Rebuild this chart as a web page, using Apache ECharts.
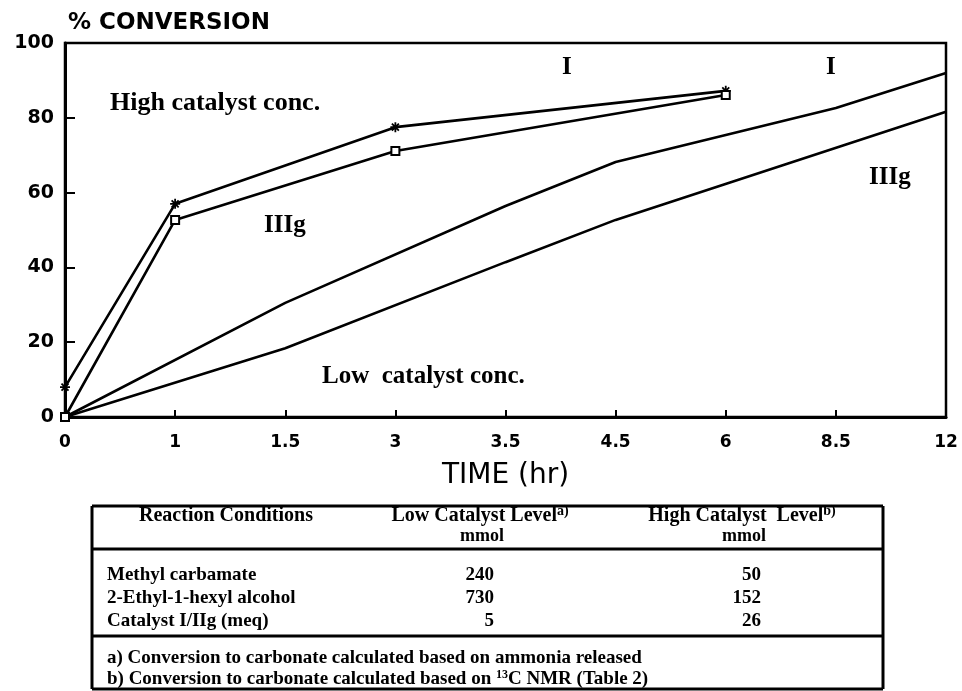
<!DOCTYPE html>
<html>
<head>
<meta charset="utf-8">
<script src="https://cdn.jsdelivr.net/npm/echarts@6/dist/echarts.min.js"></script>
<style>
html,body{margin:0;padding:0;background:#fff;}
#chart{width:962px;height:691px;}
</style>
</head>
<body>
<div id="chart"></div>
<script>
// ---- data ----
const categories = ['0', '1', '1.5', '3', '3.5', '4.5', '6', '8.5', '12'];
const highI     = [8, 57, null, 77.5, null, null, 87.2, null, null];
const highIIIg  = [0, 52.7, null, 71.1, null, null, 86.1, null, null];
const lowI      = [0, null, 30.5, null, 56.4, 68.2, null, 82.6, 92];
const lowIIIg   = [0, null, 18.4, null, 41.4, 52.7, null, null, 81.6];
const yTicks    = [0, 20, 40, 60, 80, 100];

const tableHeader = ['Reaction Conditions', 'Low Catalyst Level', 'High Catalyst  Level'];
const tableNoteMarks = ['', 'a)', 'b)'];
const tableUnits  = ['', 'mmol', 'mmol'];
const rowLabels   = ['Methyl carbamate', '2-Ethyl-1-hexyl alcohol', 'Catalyst I/IIg (meq)'];
const lowLevel    = [240, 730, 5];
const highLevel   = [50, 152, 26];
const footnotes   = ['a) Conversion to carbonate calculated based on ammonia released',
                     'b) Conversion to carbonate calculated based on {s|13}C NMR (Table 2)'];

// ---- styles ----
const SERIF = '"Liberation Serif", "DejaVu Serif", serif';
const SANS = '"DejaVu Sans", "Liberation Sans", sans-serif';
const asterisk = 'path://M5,0 L5,10 M0,5 L10,5 M1.5,1.5 L8.5,8.5 M8.5,1.5 L1.5,8.5';
const vtick = 'path://M1,0 L1,10';

const chart = echarts.init(document.getElementById('chart'), null, {renderer: 'canvas'});

function lineSeries(name, data, symbol, size, itemStyle) {
  return {
    name, type: 'line', data, connectNulls: true,
    symbol, symbolSize: size, showSymbol: symbol !== 'none',
    lineStyle: {color: '#000', width: 2.6},
    itemStyle: itemStyle || {color: 'rgba(0,0,0,0)', borderColor: '#000', borderWidth: 1.8},
    emphasis: {disabled: true}, animation: false, z: 3
  };
}

// table graphics
const T = {left: 92, right: 883, top: 506, headBottom: 549, bodyBottom: 636, bottom: 689};
const g = [];
function hline(y, x1, x2, w) { g.push({type: 'line', shape: {x1, y1: y, x2, y2: y}, style: {stroke: '#000', lineWidth: w}}); }
function vline(x, y1, y2, w) { g.push({type: 'line', shape: {x1: x, y1, x2: x, y2}, style: {stroke: '#000', lineWidth: w}}); }
hline(T.top, T.left, T.right, 3);
hline(T.headBottom, T.left, T.right, 3);
hline(T.bodyBottom, T.left, T.right, 3);
hline(T.bottom, T.left, T.right, 3);
vline(T.left, T.top, T.bottom, 3);
vline(T.right, T.top, T.bottom, 3);

function txt(x, y, text, opts) {
  g.push({type: 'text', x, y, style: Object.assign({
    text, fill: '#000', font: 'bold 19px ' + SERIF, textVerticalAlign: 'middle'
  }, opts || {})});
}
const colCenters = [226, 480, 742];
tableHeader.forEach((h, i) => {
  g.push({type: 'text', x: colCenters[i], y: 516, style: {
    text: h + (tableNoteMarks[i] ? '{s|' + tableNoteMarks[i] + '}' : ''),
    fill: '#000', font: 'bold 20px ' + SERIF, textAlign: 'center', textVerticalAlign: 'middle',
    rich: {s: {fontSize: 14, fontWeight: 'bold', fontFamily: SERIF, verticalAlign: 'top', padding: [0, 0, 9, 0]}}
  }});
  if (tableUnits[i]) txt(colCenters[i] + 2, 536, tableUnits[i], {textAlign: 'center', font: 'bold 18px ' + SERIF});
});
const rowY = [575, 598, 621];
rowLabels.forEach((r, i) => {
  txt(107, rowY[i], r);
  txt(494, rowY[i], String(lowLevel[i]), {textAlign: 'right'});
  txt(761, rowY[i], String(highLevel[i]), {textAlign: 'right'});
});
const noteY = [658, 679];
footnotes.forEach((f, i) => {
  g.push({type: 'text', x: 107, y: noteY[i], style: {
    text: f, fill: '#000', font: 'bold 19px ' + SERIF, textVerticalAlign: 'middle',
    rich: {s: {fontSize: 12, fontWeight: 'bold', fontFamily: SERIF, verticalAlign: 'top', padding: [0, 0, 8, 0]}}
  }});
});

// plot annotations
function ann(x, y, text, size) {
  g.push({type: 'text', x, y, z: 10, style: {text, fill: '#000', font: 'bold ' + size + 'px ' + SERIF, textVerticalAlign: 'middle'}});
}
ann(110, 103, 'High catalyst conc.', 26);
ann(264, 226, 'IIIg', 25);
ann(562, 68, 'I', 25);
ann(826, 68, 'I', 25);
ann(869, 178, 'IIIg', 25);
ann(322, 377, 'Low  catalyst conc.', 25);

const option = {
  backgroundColor: '#fff',
  animation: false,
  grid: {left: 65, right: 16, top: 43, bottom: 274, show: true, borderColor: '#000', borderWidth: 2.5, containLabel: false},
  title: {
    text: '% CONVERSION', left: 63, top: 7,
    textStyle: {fontFamily: SANS, fontWeight: 'bold', fontSize: 23, color: '#000'}
  },
  xAxis: {
    type: 'category', data: categories, boundaryGap: false,
    name: 'TIME (hr)', nameLocation: 'middle', nameGap: 45,
    nameTextStyle: {fontFamily: SANS, fontSize: 28, color: '#000'},
    axisLine: {lineStyle: {color: '#000', width: 3}},
    axisTick: {inside: true, length: 7, lineStyle: {color: '#000', width: 2}},
    axisLabel: {color: '#000', fontFamily: SANS, fontWeight: 'bold', fontSize: 17, margin: 17},
    splitLine: {show: false}
  },
  yAxis: {
    type: 'value', min: yTicks[0], max: yTicks[yTicks.length - 1], interval: 20,
    axisLine: {show: true, lineStyle: {color: '#000', width: 3}},
    axisTick: {show: true, inside: true, length: 10, lineStyle: {color: '#000', width: 2}},
    axisLabel: {color: '#000', fontFamily: SANS, fontWeight: 'bold', fontSize: 19, margin: 11},
    splitLine: {show: false}
  },
  series: [
    lineSeries('High catalyst I', highI, asterisk, 10),
    lineSeries('High catalyst IIIg', highIIIg, 'rect', 8, {color: '#fff', borderColor: '#000', borderWidth: 2}),
    lineSeries('Low catalyst I', lowI, 'none', 0),
    lineSeries('Low catalyst IIIg', lowIIIg, vtick, [4, 12])
  ],
  graphic: g
};
chart.setOption(option);
</script>
</body>
</html>
